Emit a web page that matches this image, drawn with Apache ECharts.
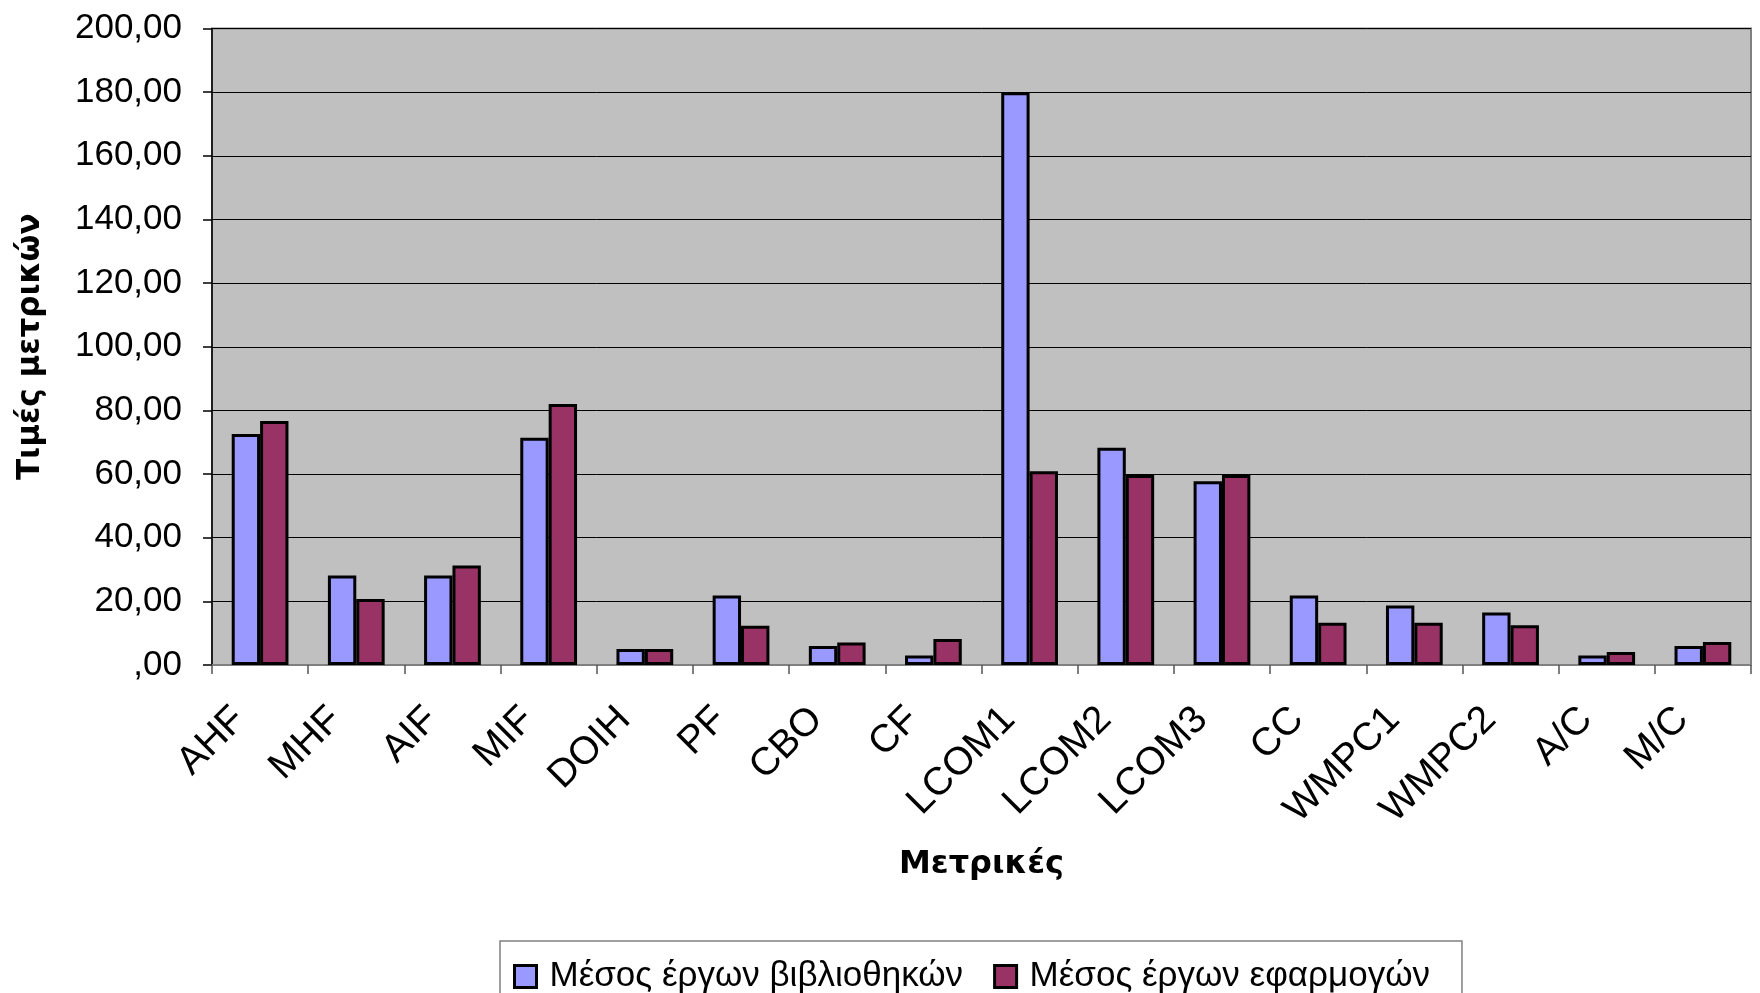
<!DOCTYPE html>
<html>
<head>
<meta charset="utf-8">
<script src="https://cdn.jsdelivr.net/npm/echarts@6/dist/echarts.min.js"></script>
<style>
html,body{margin:0;padding:0;background:#fff;}
#chart{width:1760px;height:993px;}
</style>
</head>
<body>
<div id="chart"></div>
<script>
const categories = ['AHF','MHF','AIF','MIF','DOIH','PF','CBO','CF','LCOM1','LCOM2','LCOM3','CC','WMPC1','WMPC2','A/C','M/C'];
const libraryValues = [72.6, 28.1, 28.1, 71.4, 5.0, 21.8, 6.0, 3.0, 180.0, 68.3, 57.7, 21.8, 18.7, 16.5, 3.0, 6.0];
const applicationValues = [76.7, 20.7, 31.3, 82.0, 5.0, 12.3, 7.1, 8.2, 60.9, 59.7, 59.7, 13.3, 13.3, 12.5, 4.1, 7.2];
const seriesNames = ['Μέσος έργων βιβλιοθηκών', 'Μέσος έργων εφαρμογών'];
const yTickLabels = [',00','20,00','40,00','60,00','80,00','100,00','120,00','140,00','160,00','180,00','200,00'];
const xAxisTitle = 'Μετρικές';
const yAxisTitle = 'Τιμές μετρικών';

const chart = echarts.init(document.getElementById('chart'), null, {renderer: 'canvas'});
const barStyle = (color) => ({color: color, borderColor: '#000', borderWidth: 3});
chart.setOption({
  animation: false,
  backgroundColor: '#fff',
  grid: {
    left: 212, right: 9, top: 28.5, bottom: 328,
    containLabel: false, outerBoundsMode: 'none',
    show: true, backgroundColor: '#C0C0C0', borderColor: '#808080', borderWidth: 2
  },
  legend: {
    left: 500, top: 941,
    padding: [18, 32, 30, 13],
    borderColor: '#808080', borderWidth: 1.5,
    itemWidth: 22, itemHeight: 22, itemGap: 30,
    icon: 'rect',
    itemStyle: {borderColor: '#000', borderWidth: 3},
    textStyle: {fontFamily: 'Liberation Sans', fontSize: 35, color: '#000', padding: [0, 0, 0, 8]},
    data: seriesNames
  },
  xAxis: {
    type: 'category',
    data: categories,
    name: xAxisTitle,
    nameLocation: 'middle',
    nameGap: 184,
    nameTextStyle: {fontFamily: 'DejaVu Sans', fontWeight: 'bold', fontSize: 32, color: '#000'},
    axisLine: {show: true, lineStyle: {color: '#808080', width: 2}},
    axisTick: {show: true, length: 9, lineStyle: {color: '#555', width: 1.5}},
    axisLabel: {rotate: 45, margin: 28, padding: [0, 29, 0, 0], fontFamily: 'Liberation Sans', fontSize: 39, color: '#000', interval: 0}
  },
  yAxis: {
    type: 'value',
    min: 0, max: 200, interval: 20,
    name: yAxisTitle,
    nameLocation: 'middle',
    nameGap: 166,
    nameTextStyle: {fontFamily: 'DejaVu Sans', fontWeight: 'bold', fontSize: 31, color: '#000'},
    axisLine: {show: true, lineStyle: {color: '#000', width: 1.5}},
    axisTick: {show: true, length: 9, lineStyle: {color: '#000', width: 1.5}},
    axisLabel: {
      margin: 30, fontFamily: 'Liberation Sans', fontSize: 35, color: '#000',
      formatter: (v) => yTickLabels[Math.round(v / 20)]
    },
    splitLine: {show: true, lineStyle: {color: '#000', width: 1}}
  },
  series: [
    {name: seriesNames[0], type: 'bar', data: libraryValues, barGap: '0%', barCategoryGap: '41%', itemStyle: barStyle('#9999FF')},
    {name: seriesNames[1], type: 'bar', data: applicationValues, barGap: '0%', barCategoryGap: '41%', itemStyle: barStyle('#993366')}
  ]
});
</script>
</body>
</html>
